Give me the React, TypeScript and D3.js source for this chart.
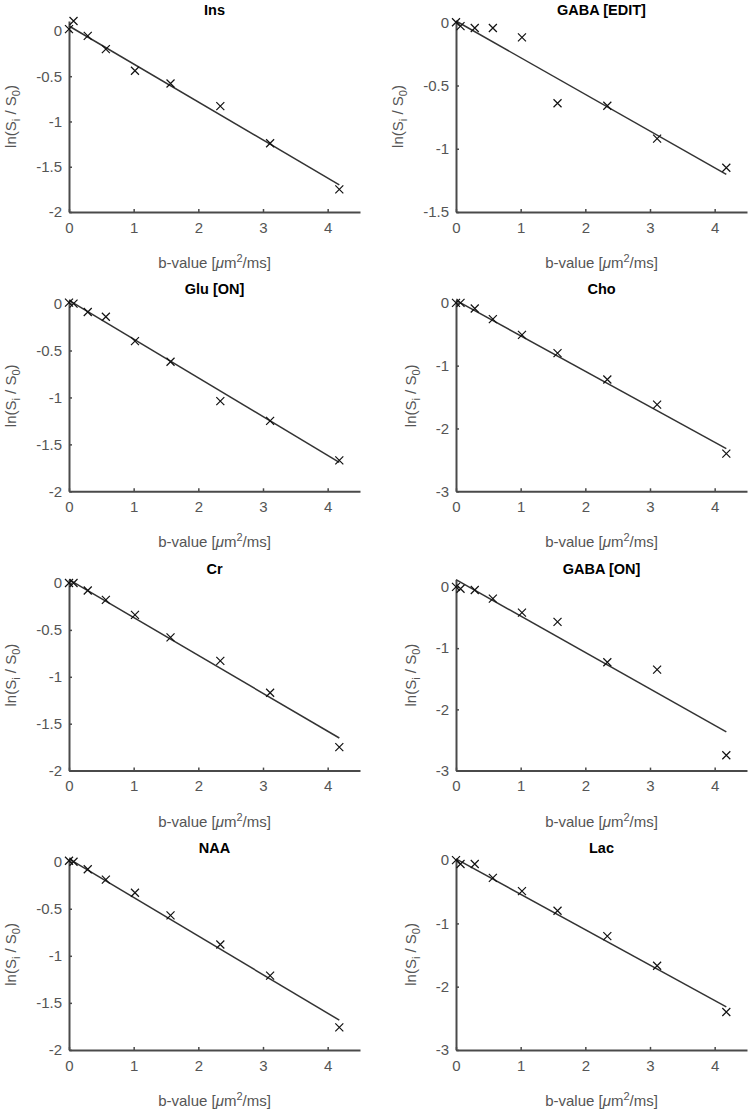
import * as d3 from "d3";
import { useRef, useEffect } from "react";

// b-values shared by every metabolite [µm²/ms]
const bValues = [0, 0.07, 0.29, 0.57, 1.02, 1.57, 2.34, 3.11, 4.18];

const metabolites = ["Ins", "GABA [EDIT]", "Glu [ON]", "Cho", "Cr", "GABA [ON]", "NAA", "Lac"];

// ln(Si / S0) per metabolite, one value per b-value
const insSignal = [0.02, 0.11, -0.055, -0.2, -0.44, -0.58, -0.83, -1.24, -1.75];
const gabaEditSignal = [0, -0.03, -0.045, -0.045, -0.12, -0.64, -0.66, -0.92, -1.15];
const gluOnSignal = [0.01, 0.0, -0.09, -0.14, -0.4, -0.62, -1.04, -1.25, -1.67];
const choSignal = [0, 0.0, -0.09, -0.26, -0.51, -0.8, -1.22, -1.62, -2.4];
const crSignal = [0, 0, -0.08, -0.18, -0.34, -0.58, -0.83, -1.17, -1.75];
const gabaOnSignal = [0.0, -0.03, -0.05, -0.19, -0.42, -0.57, -1.23, -1.35, -2.75];
const naaSignal = [0.01, 0, -0.08, -0.19, -0.33, -0.57, -0.88, -1.21, -1.76];
const lacSignal = [0, -0.06, -0.06, -0.28, -0.49, -0.8, -1.2, -1.67, -2.4];

const signals = [insSignal, gabaEditSignal, gluOnSignal, choSignal, crSignal, gabaOnSignal, naaSignal, lacSignal];

// linear fit: ln(Si/S0) = intercept + slope * b
const fitIntercepts = [0.055, 0.01, 0.035, 0.04, 0.036, 0.12, 0.03, 0.02];
const fitSlopes = [-0.42, -0.29, -0.413, -0.565, -0.404, -0.595, -0.41, -0.56];

const yFloors = [-2, -1.5, -2, -3, -2, -3, -2, -3];
const yTickSets = [
  [-2, -1.5, -1, -0.5, 0],
  [-1.5, -1, -0.5, 0],
  [-2, -1.5, -1, -0.5, 0],
  [-3, -2, -1, 0],
  [-2, -1.5, -1, -0.5, 0],
  [-3, -2, -1, 0],
  [-2, -1.5, -1, -0.5, 0],
  [-3, -2, -1, 0],
];
const xTicks = [0, 1, 2, 3, 4];
const xMax = 4.5;

const FONT = "'Liberation Sans', Arial, Helvetica, sans-serif";
const axisColor = "#4a4a4a";
const labelColor = "#555";

const colLeft = [69, 456];
const rowTop0 = 21;
const rowStep = 279.3;
const plotW = 291;
const plotH = 191;
const tickLen = 3;

export default function App() {
  const ref = useRef<SVGSVGElement>(null);

  useEffect(() => {
    document.body.style.margin = "0";
    if (!ref.current) return;
    const svg = d3.select(ref.current);
    svg.selectAll("*").remove();

    metabolites.forEach((name, i) => {
      const col = i % 2;
      const row = Math.floor(i / 2);
      const g = svg
        .append("g")
        .attr("transform", `translate(${colLeft[col]},${rowTop0 + row * rowStep})`);

      const x = d3.scaleLinear().domain([0, xMax]).range([0, plotW]);
      const yTop = Math.max(fitIntercepts[i], d3.max(signals[i]) || 0);
      const y = d3.scaleLinear().domain([yFloors[i], yTop]).range([plotH, 0]);

      const xAxis = g
        .append("g")
        .attr("transform", `translate(0,${plotH})`)
        .call(
          d3
            .axisBottom(x)
            .tickValues(xTicks)
            .tickSizeInner(-tickLen)
            .tickSizeOuter(0)
            .tickPadding(10)
            .tickFormat((d) => String(d))
        );

      const yAxis = g.append("g").call(
        d3
          .axisLeft(y)
          .tickValues(yTickSets[i])
          .tickSizeInner(-tickLen)
          .tickSizeOuter(0)
          .tickPadding(7)
          .tickFormat((d) => String(d))
      );

      // MATLAB-like axes: gray lines, inward ticks, gray labels
      [xAxis, yAxis].forEach((ax) => {
        ax.attr("font-family", FONT).attr("font-size", 15).attr("color", axisColor);
        ax.select(".domain").attr("stroke-width", 2);
        ax.selectAll(".tick line").attr("stroke-width", 1.5);
        ax.selectAll(".tick text").attr("fill", labelColor);
      });

      // fitted line
      const fitPts = [0, bValues[bValues.length - 1]].map((b) => ({
        b,
        v: fitIntercepts[i] + fitSlopes[i] * b,
      }));
      const line = d3
        .line<{ b: number; v: number }>()
        .x((d) => x(d.b))
        .y((d) => y(d.v));
      g.append("path")
        .datum(fitPts)
        .attr("d", line)
        .attr("fill", "none")
        .attr("stroke", "#333")
        .attr("stroke-width", 1.5);

      // measured points as x markers
      g.selectAll(".pt")
        .data(bValues.map((b, k) => ({ b, v: signals[i][k] })))
        .enter()
        .append("path")
        .attr("class", "pt")
        .attr("transform", (d) => `translate(${x(d.b)},${y(d.v)})`)
        .attr("d", "M-4,-4L4,4M-4,4L4,-4")
        .attr("stroke", "#111")
        .attr("stroke-width", 1.2)
        .attr("fill", "none");

      // title
      g.append("text")
        .attr("x", plotW / 2)
        .attr("y", -6)
        .attr("text-anchor", "middle")
        .attr("font-family", FONT)
        .attr("font-size", 14.5)
        .attr("font-weight", "bold")
        .attr("fill", "#000")
        .text(name);

      // x label: b-value [µm²/ms]
      const xl = g
        .append("text")
        .attr("x", plotW / 2)
        .attr("y", plotH + 56)
        .attr("text-anchor", "middle")
        .attr("font-family", FONT)
        .attr("font-size", 15)
        .attr("fill", labelColor);
      xl.append("tspan").text("b-value [");
      xl.append("tspan").attr("font-style", "italic").text("\u03bc");
      xl.append("tspan").text("m");
      xl.append("tspan").attr("dy", -6).attr("font-size", 11).text("2");
      xl.append("tspan").attr("dy", 6).text("/ms]");

      // y label: ln(Si / S0), placed left of the tick labels
      const box = (yAxis.node() as SVGGElement).getBBox();
      const ylx = box.x - 20;
      const yl = g
        .append("text")
        .attr("transform", `translate(${ylx},${plotH / 2}) rotate(-90)`)
        .attr("text-anchor", "middle")
        .attr("font-family", FONT)
        .attr("font-size", 15)
        .attr("fill", labelColor);
      yl.append("tspan").text("ln(S");
      yl.append("tspan").attr("dy", 4).attr("font-size", 11).text("i");
      yl.append("tspan").attr("dy", -4).text(" / S");
      yl.append("tspan").attr("dy", 4).attr("font-size", 11).text("0");
      yl.append("tspan").attr("dy", -4).text(")");
    });
  }, []);

  return <svg ref={ref} width={749} height={1111} style={{ display: "block", background: "#fff" }} />;
}
